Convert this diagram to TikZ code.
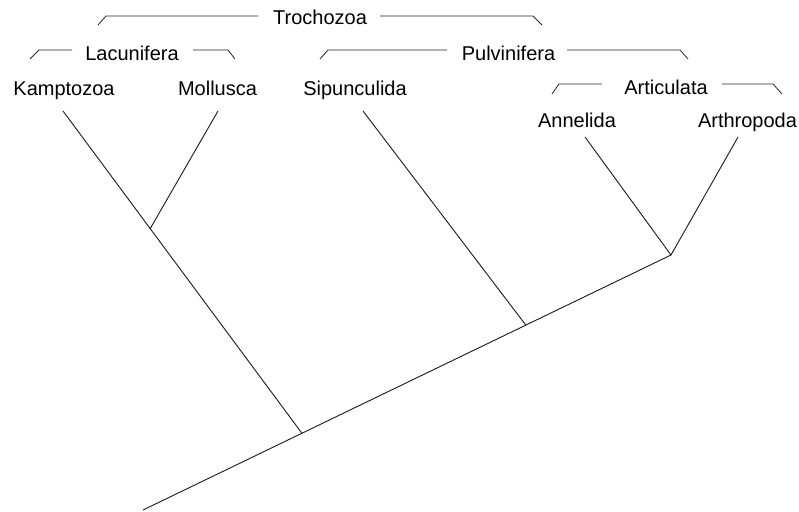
\documentclass[tikz,border=0pt]{standalone}
\usepackage{fontspec}
\setmainfont{Liberation Sans}
\usetikzlibrary{calc}
\begin{document}
\begin{tikzpicture}[x=1pt,y=-1pt,
  lbl/.style={anchor=base,inner sep=0pt,font=\fontsize{20}{24}\selectfont},
  branch/.style={line width=0.9pt,black!90},
  brk/.style={line width=0.8pt,black!85}]
\useasboundingbox (0,0) rectangle (799,511);
% taxon labels
\node[lbl] (kamp) at (64,95) {Kamptozoa};
\node[lbl] (moll) at (217.5,95) {Mollusca};
\node[lbl] (sip) at (355,95) {Sipunculida};
\node[lbl] (ann) at (577,127) {Annelida};
\node[lbl] (arth) at (747.5,127) {Arthropoda};
% group labels
\node[lbl] (tro) at (320,25) {Trochozoa};
\node[lbl] (lac) at (132,60) {Lacunifera};
\node[lbl] (pul) at (508.5,60) {Pulvinifera};
\node[lbl] (art) at (666,94) {Articulata};
% brackets
\draw[brk] (98,25) -- (106,16) -- (258,16);
\draw[brk] (380,16) -- (533,16) -- (542,25);
\draw[brk] (30,59) -- (39,50) -- (72,50);
\draw[brk] (193,50) -- (228,50) -- (235,59);
\draw[brk] (320,59) -- (328,50) -- (447,50);
\draw[brk] (567,50) -- (680,50) -- (688,59);
\draw[brk] (552,94) -- (559,84) -- (602,84);
\draw[brk] (722,84) -- (773,84) -- (782,94);
% tree
\coordinate (root) at (143,510);
\coordinate (j3) at (671,255);
\coordinate (tk) at (63,111);
\coordinate (tm) at (218,111);
\coordinate (ts) at (363,111);
\coordinate (ta) at (585,137);
\coordinate (tr) at (738,137);
\coordinate (j1) at ($(root)!0.301!(j3)$);
\coordinate (j2) at ($(root)!0.725!(j3)$);
\coordinate (jm) at ($(j1)!0.635!(tk)$);
\draw[branch] (root) -- (j3);
\draw[branch] (j1) -- (tk);
\draw[branch] (jm) -- (tm);
\draw[branch] (j2) -- (ts);
\draw[branch] (j3) -- (ta);
\draw[branch] (j3) -- (tr);
\end{tikzpicture}
\end{document}
